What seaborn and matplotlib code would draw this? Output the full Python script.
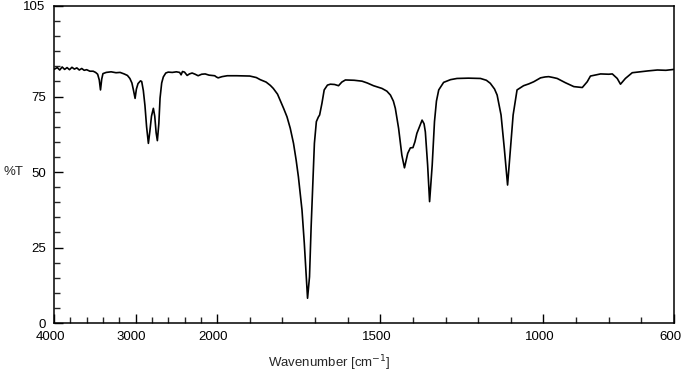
import numpy as np
import pandas as pd
import matplotlib
matplotlib.use("Agg")
import matplotlib.pyplot as plt
import matplotlib.transforms as mtransforms
import seaborn as sns

# --- Data (wavenumber in cm-1, %T) ---
wavenumber = [
    4000, 3960, 3930, 3900, 3870, 3840, 3810, 3780, 3750, 3720, 3690, 3660, 3630,
    3600, 3560, 3520, 3490, 3465, 3445, 3430, 3415, 3400, 3360, 3300, 3240, 3190,
    3140, 3100, 3070, 3045, 3025, 3006, 2990, 2970, 2940, 2925, 2905, 2885, 2865,
    2843, 2825, 2805, 2782, 2765, 2748, 2733, 2715, 2700, 2680, 2660, 2630, 2600,
    2550, 2500, 2460, 2442, 2425, 2400, 2368, 2340, 2307, 2270, 2233, 2190, 2147,
    2100, 2061, 2030, 2010, 1997, 1985, 1969, 1940, 1900, 1880, 1868, 1850, 1837,
    1828, 1815, 1807, 1796, 1786, 1776, 1766, 1758, 1751, 1745, 1740, 1733, 1727,
    1723, 1717, 1712, 1706, 1702, 1696, 1690, 1686, 1679, 1672, 1662, 1653, 1640,
    1628, 1618, 1607, 1580, 1556, 1540, 1521, 1495, 1480, 1469, 1460, 1454, 1444,
    1434, 1426, 1416, 1408, 1400, 1394, 1388, 1380, 1372, 1366, 1362, 1355, 1349,
    1341, 1334, 1328, 1321, 1306, 1285, 1265, 1230, 1193, 1175, 1163, 1150, 1142,
    1130, 1120, 1110, 1101, 1093, 1081, 1061, 1045, 1030, 1009, 995, 984, 970,
    958, 933, 907, 881, 866, 856, 825, 800, 789, 774, 764, 749, 728, 703, 680,
    651, 625, 600,
]
transmittance = [
    84.0, 84.6, 83.8, 84.8, 84.0, 84.6, 83.9, 84.7, 84.1, 84.5, 83.8, 84.3, 83.7,
    83.9, 83.4, 83.4, 83.0, 82.4, 80.5, 77.2, 80.8, 82.6, 83.0, 83.2, 82.9, 83.0,
    82.5, 82.0, 81.0, 79.5, 77.0, 74.4, 77.5, 79.3, 80.2, 80.0, 77.0, 72.0, 65.0,
    59.5, 63.5, 68.5, 71.1, 68.5, 63.0, 60.4, 66.0, 74.5, 79.5, 81.5, 82.8, 83.1,
    83.0, 83.2, 83.0, 82.2, 83.3, 83.1, 82.0, 82.5, 82.8, 82.4, 81.9, 82.4, 82.5,
    82.1, 82.0, 81.9, 81.5, 81.2, 81.6, 81.9, 81.9, 81.8, 81.3, 80.6, 79.8, 78.7,
    77.7, 75.8, 73.8, 71.0, 68.3, 64.5, 59.5, 54.0, 48.4, 42.5, 37.4, 26.5, 15.3,
    8.2, 15.3, 31.9, 48.4, 59.5, 66.7, 68.2, 68.9, 72.7, 77.2, 78.8, 79.1, 79.0,
    78.6, 79.8, 80.5, 80.4, 80.1, 79.5, 78.6, 77.7, 76.8, 75.5, 73.5, 71.1, 64.5,
    55.6, 51.4, 56.2, 58.0, 58.1, 60.0, 62.8, 65.0, 67.2, 66.0, 63.3, 52.3, 40.2,
    52.3, 66.7, 73.5, 77.2, 79.7, 80.6, 81.0, 81.1, 81.0, 80.4, 79.4, 77.5, 75.5,
    68.9, 57.8, 45.7, 57.8, 68.9, 77.2, 78.6, 79.2, 79.9, 81.2, 81.5, 81.6, 81.3,
    81.0, 79.6, 78.3, 78.0, 79.9, 81.8, 82.5, 82.4, 82.5, 81.0, 79.1, 81.0, 82.9,
    83.2, 83.5, 83.8, 83.7, 84.0,
]
x_major = [4000, 3000, 2000, 1500, 1000, 600]
x_minor = [3800, 3600, 3400, 3200, 2800, 2600, 2400, 2200,
           1900, 1800, 1700, 1600, 1400, 1300, 1200, 1100, 900, 800, 700]
y_major = [0, 25, 50, 75, 105]

df = pd.DataFrame({"wavenumber": wavenumber, "T": transmittance})

# --- Configuration ---
sns.set_style("ticks")
plt.rcParams["font.family"] = ["Liberation Sans", "DejaVu Sans"]

fig = plt.figure(figsize=(6.83, 3.76), dpi=100)
ax = fig.add_axes([54 / 683, 53 / 376, 620 / 683, 317 / 376])


# Axis is compressed 4x above 2000 cm-1 (typical IR layout)
def fwd(w):
    w = np.asarray(w, dtype=float)
    return np.where(w > 2000, 2000 + (w - 2000) / 4, w)


def inv(u):
    u = np.asarray(u, dtype=float)
    return np.where(u > 2000, 2000 + (u - 2000) * 4, u)


ax.set_xscale("function", functions=(fwd, inv))

# --- Generate the Plot ---
sns.lineplot(data=df, x="wavenumber", y="T", color="black", linewidth=1.2,
             estimator=None, ax=ax)

ax.set_xlim(4000, 600)
ax.set_ylim(0, 105)

ax.set_xticks(x_major)
ax.set_xticks(x_minor, minor=True)
ax.set_xticklabels([str(v) for v in x_major])
ax.set_yticks(y_major)
ax.set_yticks(np.arange(5, 105, 5), minor=True)
ax.set_yticklabels([str(v) for v in y_major])

ax.tick_params(which="major", direction="in", length=6.5, width=1,
               labelsize=9.5, pad=6, colors="black")
ax.tick_params(which="minor", direction="in", length=4.3, width=1)
for s in ax.spines.values():
    s.set_linewidth(1.1)
    s.set_color("black")

# x tick labels sit a few pixels left of their ticks in the reference
shift = mtransforms.ScaledTranslation(-4 / 100, 0, fig.dpi_scale_trans)
for lbl in ax.get_xticklabels():
    lbl.set_transform(lbl.get_transform() + shift)

# --- Labeling ---
ax.set_xlabel("Wavenumber [cm$^{-1}$]", fontsize=9.5)
ax.xaxis.set_label_coords((329 - 54) / 620, -0.095)
ax.set_ylabel("%T", fontsize=9.5, rotation=0, va="center", ha="left")
ax.yaxis.set_label_coords((3 - 54) / 620, 0.477)

fig.savefig("out.png", dpi=100)
